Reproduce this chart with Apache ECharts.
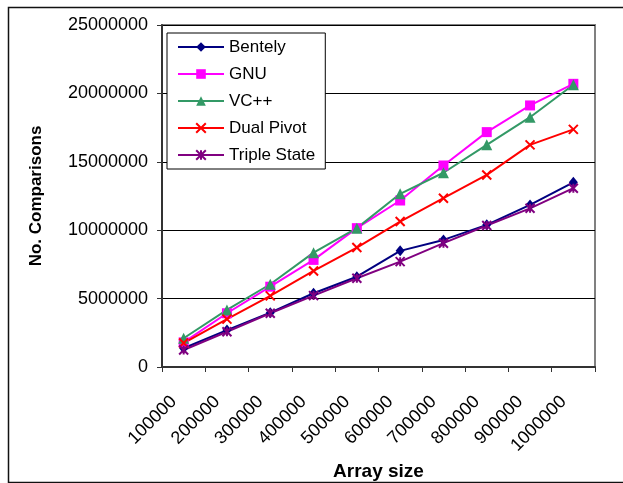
<!DOCTYPE html>
<html>
<head>
<meta charset="utf-8">
<script src="https://cdn.jsdelivr.net/npm/echarts@6/dist/echarts.min.js"></script>
<style>
html,body{margin:0;padding:0;background:#fff;}
#c{width:623px;height:483px;}
</style>
</head>
<body>
<div id="c"></div>
<script>
const categories = ['100000','200000','300000','400000','500000','600000','700000','800000','900000','1000000'];
const bentely = [1370000, 2700000, 3970000, 5390000, 6600000, 8490000, 9290000, 10390000, 11850000, 13500000];
const gnu = [1800000, 3930000, 5870000, 7830000, 10150000, 12170000, 14730000, 17170000, 19120000, 20700000];
const vcpp = [2100000, 4170000, 6050000, 8360000, 10150000, 12660000, 14200000, 16240000, 18260000, 20630000];
const dualPivot = [1750000, 3500000, 5200000, 7020000, 8730000, 10630000, 12340000, 14040000, 16240000, 17370000];
const tripleState = [1240000, 2580000, 3930000, 5220000, 6490000, 7700000, 9050000, 10340000, 11600000, 13070000];
const seriesNames = ['Bentely','GNU','VC++','Dual Pivot','Triple State'];
const yTicks = [0, 5000000, 10000000, 15000000, 20000000, 25000000];

const FONT = "'Liberation Sans', Arial, sans-serif";
const chart = echarts.init(document.getElementById('c'), null, {renderer: 'canvas'});

function mk(name, data, color, symbol, size, stroke) {
  return {
    name: name, type: 'line', data: data,
    symbol: symbol, symbolSize: size,
    lineStyle: {color: color, width: 2},
    itemStyle: stroke ? {color: color, borderColor: color, borderWidth: 2} : {color: color},
    emphasis: {disabled: true}
  };
}

chart.setOption({
  animation: false,
  backgroundColor: '#fff',
  graphic: [{
    type: 'rect', left: 6, top: 5, z: 100, silent: true,
    shape: {x: 0, y: 0, width: 640, height: 475},
    style: {fill: 'none', stroke: '#111', lineWidth: 1.5}
  }],
  grid: {left: 162, right: 28, top: 25, bottom: 116, show: true, borderColor: '#808080', borderWidth: 2, containLabel: false, outerBoundsMode: 'none'},
  legend: {
    orient: 'vertical', left: 167, top: 33,
    backgroundColor: '#fff', borderColor: '#000', borderWidth: 1,
    padding: [4, 10, 4, 10],
    itemWidth: 46, itemHeight: 12, itemGap: 7,
    textStyle: {fontFamily: FONT, fontSize: 17, color: '#000', lineHeight: 20},
    data: seriesNames
  },
  xAxis: {
    type: 'category', data: categories, boundaryGap: true,
    name: 'Array size', nameLocation: 'middle', nameGap: 86,
    nameTextStyle: {fontFamily: FONT, fontSize: 19, fontWeight: 'bold', color: '#000'},
    axisLine: {lineStyle: {color: '#333', width: 2}},
    axisTick: {show: true, length: 5, lineStyle: {color: '#333', width: 1}},
    axisLabel: {rotate: 45, fontFamily: FONT, fontSize: 18, color: '#000', margin: 22, interval: 0, padding: [0, 14, 0, 0]},
    splitLine: {show: false}
  },
  yAxis: {
    type: 'value', min: yTicks[0], max: yTicks[yTicks.length - 1], interval: yTicks[1] - yTicks[0],
    name: 'No. Comparisons', nameLocation: 'middle', nameGap: 117, nameRotate: 90,
    nameTextStyle: {fontFamily: FONT, fontSize: 17, fontWeight: 'bold', color: '#000'},
    axisLine: {show: true, lineStyle: {color: '#333', width: 2}},
    axisTick: {show: true, length: 5, lineStyle: {color: '#333', width: 1}},
    axisLabel: {fontFamily: FONT, fontSize: 18, color: '#000', margin: 14, formatter: function (v) { return String(v); }},
    splitLine: {show: true, lineStyle: {color: '#000', width: 1}}
  },
  series: [
    mk('Bentely', bentely, '#000080', 'diamond', [9, 11], false),
    mk('GNU', gnu, '#FF00FF', 'rect', 10, false),
    mk('VC++', vcpp, '#339966', 'triangle', 11, false),
    mk('Dual Pivot', dualPivot, '#FF0000', 'path://M0,0L10,10M10,0L0,10', 9, true),
    mk('Triple State', tripleState, '#800080', 'path://M0,0L10,10M10,0L0,10M5,0L5,10', 9, true)
  ]
});
</script>
</body>
</html>
